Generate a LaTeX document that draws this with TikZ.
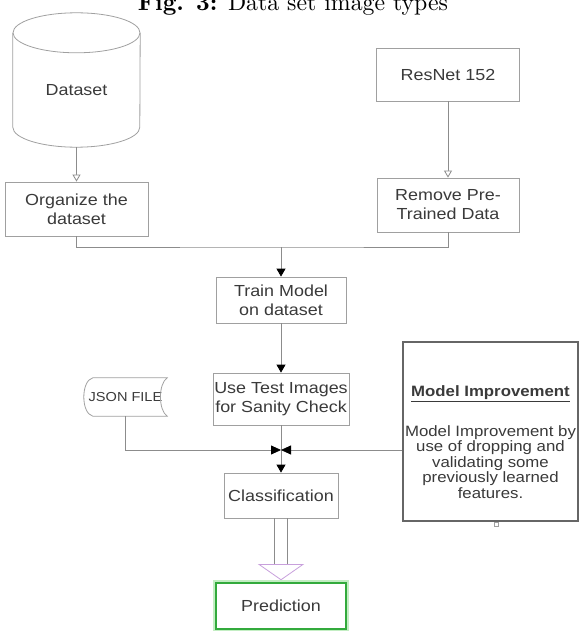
\documentclass[tikz,border=0pt]{standalone}
\usepackage{fontspec}
\usepackage{graphicx}
\usetikzlibrary{arrows.meta,calc}
\newfontfamily\diagfont[FakeStretch=1.12]{Liberation Sans}
\definecolor{txt}{HTML}{3A3A3A}
\definecolor{boxc}{HTML}{A0A0A0}
\definecolor{linec}{HTML}{8C8C8C}
\definecolor{mic}{HTML}{666666}
\definecolor{lav}{RGB}{200,160,220}
\definecolor{predgreen}{RGB}{50,170,60}
\definecolor{glow}{RGB}{195,238,195}
\begin{document}
\begin{tikzpicture}[x=1pt,y=-1pt,
  box/.style={draw=boxc, line width=0.8pt, fill=white, inner sep=0pt, align=center,
    text=txt, font=\diagfont\fontsize{16}{19}\selectfont},
  conn/.style={draw=linec, line width=0.8pt},
  solidarrow/.style={conn, -{Triangle[length=8pt,width=9pt,black]}},
  openarrow/.style={conn, -{Triangle[length=7pt,width=8pt,fill=white]}},
  bowarrow/.style={conn, -{Triangle[length=10pt,width=9pt,black]}}]
\path[use as bounding box, clip] (0,0) rectangle (579,631);

% title (cut by the top edge)
\node[anchor=base, inner sep=0pt] (title) at (293,11)
  {\resizebox{310pt}{!}{\textbf{Fig. 3:} Data set image types}};

% cylinder "Dataset"
\node[inner sep=0pt, minimum width=127pt, minimum height=114pt, text=txt,
  font=\diagfont\fontsize{16}{19}\selectfont] (ds) at (76.5,90) {Dataset};
\draw[boxc, line width=0.8pt, fill=white] (ds.north) ellipse [x radius=63.5pt, y radius=20pt];
\draw[boxc, line width=0.8pt] (ds.north west) -- ([yshift=20pt]ds.south west)
  arc[start angle=180, end angle=360, x radius=63.5pt, y radius=20pt] -- (ds.north east);

% boxes
\node[box, minimum width=143pt, minimum height=54pt] (org) at (76.5,209) {Organize the\\dataset};
\node[box, minimum width=143pt, minimum height=53pt] (res) at (448,74.5) {ResNet 152};
\node[box, minimum width=142pt, minimum height=54pt] (rem) at (448,205) {Remove Pre-\\Trained Data};
\node[box, minimum width=130pt, minimum height=46pt] (train) at (281,300) {Train Model\\on dataset};
\node[box, minimum width=136pt, minimum height=52pt] (test) at (281,399) {Use Test Images\\for Sanity Check};
\node[box, minimum width=114pt, minimum height=45pt] (cls) at (281,495.5) {Classification};
\node[box, draw=predgreen, line width=2.5pt, preaction={draw=glow, line width=6pt},
  minimum width=130pt, minimum height=46pt] (pred) at (281,606) {Prediction};

% JSON FILE (stored data shape)
\node[inner sep=0pt, minimum width=83pt, minimum height=38pt, text=txt,
  font=\diagfont\fontsize{13}{15}\selectfont] (json) at (125.5,397) {JSON FILE};
\draw[boxc, line width=0.8pt]
  ([xshift=9pt]json.north west) -- (json.north east)
  .. controls ([xshift=-9pt,yshift=-6pt]json.north east) and ([xshift=-9pt,yshift=6pt]json.south east) .. (json.south east)
  -- ([xshift=9pt]json.south west)
  .. controls ([xshift=-3pt,yshift=3pt]json.south west) and ([xshift=-3pt,yshift=-3pt]json.north west) .. ([xshift=9pt]json.north west);

% Model Improvement box
\node[draw=mic, line width=1.5pt, fill=white, minimum width=175pt, minimum height=179pt, inner sep=0pt] (mi) at (490.5,431.5) {};
\node[text=txt, align=center, inner sep=0pt, font=\diagfont\fontsize{15}{15.5}\selectfont] (mitext) at (490.5,442)
  {\textbf{\underline{Model Improvement}}\\[23pt]Model Improvement by\\use of dropping and\\validating some\\previously learned\\features.};
\node[draw=boxc, line width=0.6pt, minimum size=4pt, inner sep=0pt] (mipin) at (496,524) {};

% connectors
\draw[openarrow] (ds.south) -- (org.north);
\draw[openarrow] (res.south) -- (rem.north);
\coordinate (jn) at (281,247);
\draw[conn] (org.south) |- (jn) -| (rem.south);
\draw[solidarrow] (jn) -- (train.north);
\draw[solidarrow] (train.south) -- (test.north);
\coordinate (j2) at (281,450);
\draw[solidarrow] (test.south) -- (cls.north);
\draw[bowarrow] (json.south) |- (j2);
\draw[bowarrow] (mi.west |- j2) -- (j2);

% hollow block arrow Classification -> Prediction
\draw[linec, line width=0.8pt] ($(cls.south)+(-6.5,0)$) -- ++(0,46)
  ($(cls.south)+(6.5,0)$) -- ++(0,46);
\draw[lav, line width=0.8pt, fill=white] ($(cls.south)+(-22,46)$) -- ($(cls.south)+(22,46)$)
  -- ($(pred.north)+(0,-2)$) -- cycle;
\end{tikzpicture}
\end{document}
